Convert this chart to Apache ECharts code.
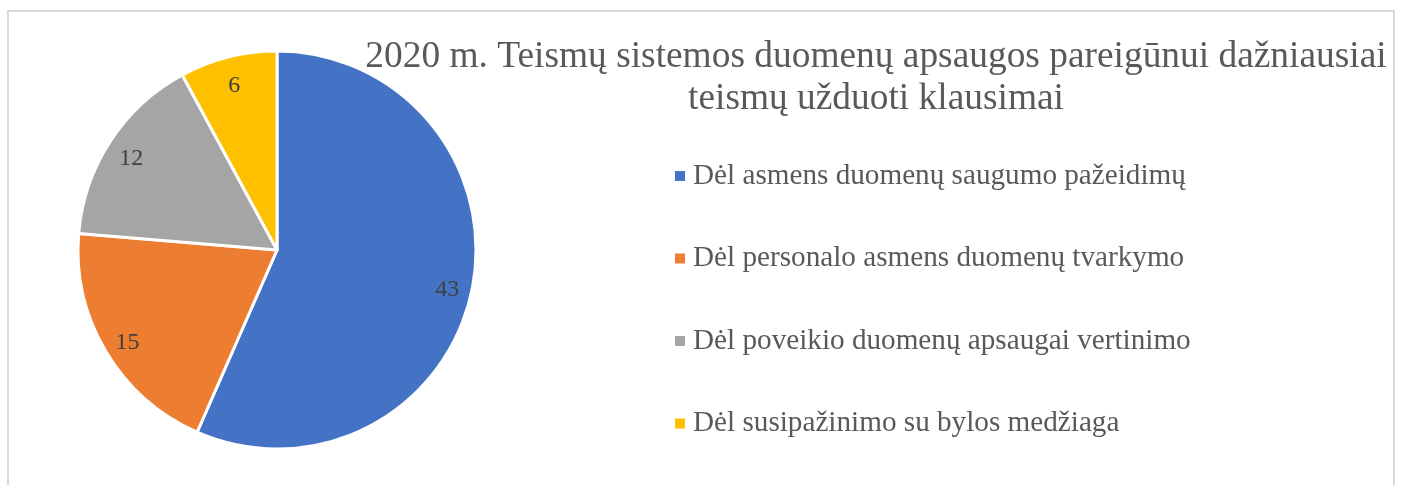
<!DOCTYPE html>
<html>
<head>
<meta charset="utf-8">
<script src="https://cdn.jsdelivr.net/npm/echarts@6/dist/echarts.min.js"></script>
<style>
html,body{margin:0;padding:0;background:#fff;}
#chart{width:1403px;height:485px;}
</style>
</head>
<body>
<div id="chart"></div>
<script>
const titleText = "2020 m. Teismų sistemos duomenų apsaugos pareigūnui dažniausiai\nteismų užduoti klausimai";
const categories = [
  "Dėl asmens duomenų saugumo pažeidimų",
  "Dėl personalo asmens duomenų tvarkymo",
  "Dėl poveikio duomenų apsaugai vertinimo",
  "Dėl susipažinimo su bylos medžiaga"
];
const values = [43, 15, 12, 6];
const colors = ["#4472C4", "#ED7D31", "#A5A5A5", "#FFC000"];

const FONT = '"Liberation Serif", "Times New Roman", serif';
const data = categories.map((c, i) => ({ name: c, value: values[i], itemStyle: { color: colors[i] } }));

const chart = echarts.init(document.getElementById('chart'), null, { renderer: 'canvas' });
chart.setOption({
  animation: false,
  backgroundColor: '#ffffff',
  graphic: [{
    type: 'rect',
    z: -10,
    shape: { x: 8, y: 11, width: 1386, height: 520 },
    style: { fill: 'none', stroke: '#d9d9d9', lineWidth: 2 }
  }],
  title: {
    text: titleText,
    left: 876,
    top: 36,
    textAlign: 'center',
    padding: 0,
    textStyle: {
      fontFamily: FONT,
      fontSize: 37.4,
      fontWeight: 'normal',
      color: '#595959',
      lineHeight: 42
    }
  },
  legend: {
    orient: 'vertical',
    left: 673,
    top: 161,
    padding: 0,
    itemWidth: 12,
    itemHeight: 12,
    itemGap: 52.5,
    icon: 'rect',
    data: categories,
    textStyle: {
      fontFamily: FONT,
      fontSize: 29.2,
      color: '#595959',
      lineHeight: 30,
      padding: [0, 0, 0, 2]
    }
  },
  series: [{
    type: 'pie',
    center: [277, 250],
    radius: [0, 199],
    startAngle: 90,
    clockwise: true,
    silent: true,
    label: { show: false },
    labelLine: { show: false },
    itemStyle: { borderColor: '#ffffff', borderWidth: 3 },
    data: data
  }, {
    type: 'pie',
    center: [277, 250],
    radius: [146, 196],
    startAngle: 90,
    clockwise: true,
    silent: true,
    legendHoverLink: false,
    itemStyle: { color: 'rgba(0,0,0,0)', borderWidth: 0 },
    label: {
      show: true,
      position: 'inside',
      fontFamily: FONT,
      fontSize: 24,
      color: '#404040',
      formatter: '{c}',
      offset: [0, 4]
    },
    labelLine: { show: false },
    data: categories.map((c, i) => ({ name: c + ' ', value: values[i] }))
  }]
});
</script>
</body>
</html>
